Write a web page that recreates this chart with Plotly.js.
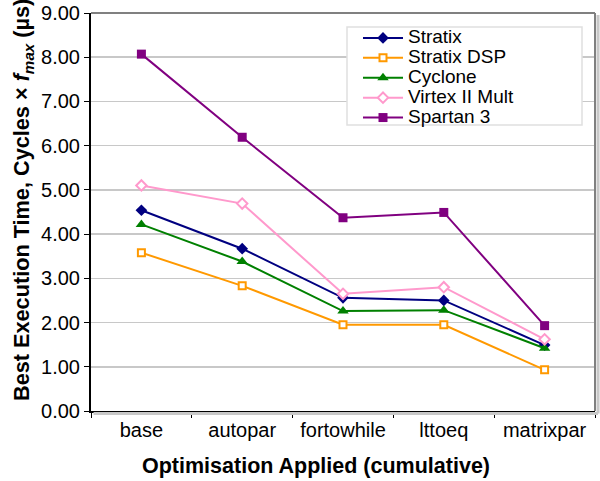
<!DOCTYPE html>
<html>
<head>
<meta charset="utf-8">
<script src="https://cdn.plot.ly/plotly-3.0.1.min.js"></script>
<style>html,body{margin:0;padding:0;background:#fff;}#chart{width:600px;height:481px;}</style>
</head>
<body>
<div id="chart"></div>
<script>
var categories = ["base", "autopar", "fortowhile", "lttoeq", "matrixpar"];
var seriesNames = ["Stratix", "Stratix DSP", "Cyclone", "Virtex II Mult", "Spartan 3"];
var stratix    = [4.54, 3.67, 2.56, 2.50, 1.49];
var stratixDSP = [3.58, 2.83, 1.95, 1.95, 0.93];
var cyclone    = [4.22, 3.38, 2.26, 2.28, 1.42];
var virtex     = [5.10, 4.69, 2.65, 2.80, 1.62];
var spartan    = [8.07, 6.19, 4.37, 4.49, 1.93];
var yTickVals  = [0, 1, 2, 3, 4, 5, 6, 7, 8, 9];
var xTitle = "<b>Optimisation Applied (cumulative)</b>";
var yTitle = "<b>Best Execution Time, Cycles × <i>f</i><sub><i>max</i></sub> (µs)</b>";

function tr(name, y, color, symbol, size, hollow) {
  return {
    type: "scatter", mode: "lines+markers",
    name: '<span style="font-size:19px">' + name + '</span>',
    x: categories, y: y,
    line: {color: color, width: 2},
    marker: {color: hollow ? "#ffffff" : color, symbol: symbol, size: size,
             line: {color: color, width: hollow ? 2 : 0}}
  };
}

var data = [
  tr(seriesNames[0], stratix, "#000080", "diamond", 9, false),
  tr(seriesNames[1], stratixDSP, "#FF9900", "square", 7, true),
  tr(seriesNames[2], cyclone, "#008000", "triangle-up", 10, false),
  tr(seriesNames[3], virtex, "#FF99CC", "diamond", 8, true),
  tr(seriesNames[4], spartan, "#800080", "square", 9, false)
];

var layout = {
  width: 600, height: 481,
  margin: {l: 91, r: 5, t: 13, b: 70},
  paper_bgcolor: "#ffffff", plot_bgcolor: "#ffffff",
  font: {family: "Liberation Sans, Arial, sans-serif", color: "#000"},
  showlegend: true,
  legend: {
    x: (358 - 91) / 504, y: (411 - 23) / 398, xanchor: "left", yanchor: "top",
    bgcolor: "rgba(0,0,0,0)", borderwidth: 0,
    font: {size: 13, color: "#000"},
    tracegroupgap: 0, itemwidth: 40
  },
  xaxis: {
    type: "category", range: [-0.5, 4.5],
    tickson: "boundaries", ticks: "outside", ticklen: 5, tickcolor: "#000",
    showline: true, linecolor: "#000", linewidth: 2,
    showgrid: false, zeroline: false,
    tickfont: {size: 20}
  },
  yaxis: {
    range: [0, 9], tickvals: yTickVals, tickformat: ".2f",
    ticks: "outside", ticklen: 5, tickcolor: "#000",
    showline: true, linecolor: "#000", linewidth: 2,
    showgrid: true, gridcolor: "#c8c8c8", gridwidth: 1.5, zeroline: false,
    tickfont: {size: 20}
  },
  annotations: [
    {text: xTitle, xref: "paper", yref: "paper", x: (316 - 91) / 504, y: (411 - 466) / 398,
     xanchor: "center", yanchor: "middle", showarrow: false, font: {size: 21.5}},
    {text: yTitle, xref: "paper", yref: "paper", x: (23 - 91) / 504, y: (411 - 200) / 398,
     xanchor: "center", yanchor: "middle", textangle: -90, showarrow: false, font: {size: 21.7}}
  ],
  shapes: [
    {type: "rect", xref: "paper", yref: "paper", x0: (347 - 91) / 504, x1: (582 - 91) / 504,
     y0: (411 - 125) / 398, y1: (411 - 27) / 398, line: {color: "#e0e0e0", width: 1.5}, fillcolor: "#ffffff", layer: "above"},
    {type: "line", xref: "paper", yref: "paper", x0: 0, x1: 1, y0: 1, y1: 1, line: {color: "#808080", width: 2}},
    {type: "line", xref: "paper", yref: "paper", x0: 1, x1: 1, y0: 0, y1: 1, line: {color: "#808080", width: 2}},
    {type: "line", xref: "paper", yref: "paper", x0: 1.006, x1: 1.006, y0: -0.006, y1: 0.995, line: {color: "#c8c8c8", width: 3}},
    {type: "line", xref: "paper", yref: "paper", x0: 0.005, x1: 1.006, y0: -0.006, y1: -0.006, line: {color: "#c8c8c8", width: 3}}
  ]
};

Plotly.newPlot("chart", data, layout, {displayModeBar: false, staticPlot: true});
</script>
</body>
</html>
